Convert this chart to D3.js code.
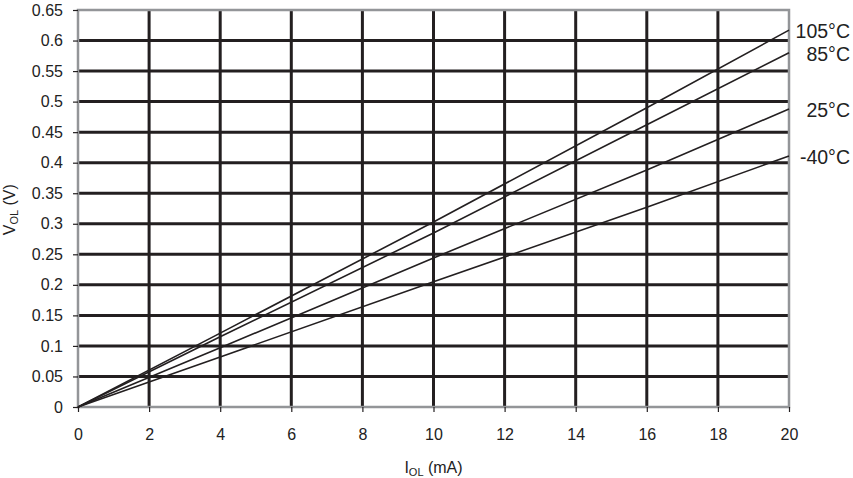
<!DOCTYPE html>
<html>
<head>
<meta charset="utf-8">
<script src="https://cdn.jsdelivr.net/npm/d3@7"></script>
<style>
  body { margin: 0; background: #fff; }
  text { font-family: "Liberation Sans", Arial, sans-serif; fill: #222; }
</style>
</head>
<body>
<svg id="chart" width="853" height="478"></svg>
<script>
const xTicks = [0, 2, 4, 6, 8, 10, 12, 14, 16, 18, 20];
const yTicks = [0, 0.05, 0.1, 0.15, 0.2, 0.25, 0.3, 0.35, 0.4, 0.45, 0.5, 0.55, 0.6, 0.65];
const seriesNames = ["105°C", "85°C", "25°C", "-40°C"];
// IOL (mA) sample points, VOL (V) read per series
const iol = [0, 4, 10, 16, 20];
const vol105 = [0, 0.121, 0.303, 0.490, 0.617];
const vol85 = [0, 0.115, 0.285, 0.462, 0.580];
const vol25 = [0, 0.097, 0.244, 0.388, 0.488];
const volM40 = [0, 0.082, 0.205, 0.327, 0.411];
const seriesValues = [vol105, vol85, vol25, volM40];

const svg = d3.select("#chart");
const margin = {left: 78, right: 64, top: 10, bottom: 71};
const W = 853, H = 478;

const x = d3.scaleLinear().domain([0, 20]).range([margin.left, W - margin.right]);
const y = d3.scaleLinear().domain([0, 0.65]).range([H - margin.bottom, margin.top]);

// grid
svg.append("g").selectAll("line").data(xTicks.slice(1, -1)).enter().append("line")
  .attr("x1", d => x(d)).attr("x2", d => x(d))
  .attr("y1", y(0)).attr("y2", y(0.65))
  .style("stroke", "#231f20").style("stroke-width", 3);
svg.append("g").selectAll("line").data(yTicks.slice(1, -1)).enter().append("line")
  .attr("x1", x(0)).attr("x2", x(20))
  .attr("y1", d => y(d)).attr("y2", d => y(d))
  .style("stroke", "#231f20").style("stroke-width", 3);

// frame
svg.append("rect")
  .attr("x", x(0)).attr("y", y(0.65))
  .attr("width", x(20) - x(0)).attr("height", y(0) - y(0.65))
  .style("fill", "none").style("stroke", "#939598").style("stroke-width", 2.5);

// axes
const xAxis = svg.append("g").attr("transform", `translate(0,${y(0)})`)
  .call(d3.axisBottom(x).tickValues(xTicks).tickSize(5).tickPadding(17).tickFormat(d3.format("d")));
const yAxis = svg.append("g").attr("transform", `translate(${x(0)},0)`)
  .call(d3.axisLeft(y).tickValues(yTicks).tickSize(5).tickPadding(10).tickFormat(d => String(+d.toFixed(2))));
[xAxis, yAxis].forEach(a => {
  a.select(".domain").remove();
  a.selectAll(".tick line").style("stroke", "#231f20").style("stroke-width", 1.2);
  a.selectAll(".tick text").style("font-size", "16px").style("fill", "#222");
});

// series
const line = d3.line().x((d, i) => x(iol[i])).y(d => y(d));
svg.append("g").selectAll("path").data(seriesValues).enter().append("path")
  .attr("d", line)
  .style("fill", "none").style("stroke", "#231f20").style("stroke-width", 1.6);

// series labels
svg.append("g").selectAll("text").data(seriesNames).enter().append("text")
  .attr("x", 850)
  .attr("y", (d, i) => y(seriesValues[i][iol.length - 1]) + 1)
  .attr("dy", "0.35em")
  .attr("text-anchor", "end")
  .style("font-size", "19.5px")
  .text(d => d);

// axis titles
const xt = svg.append("text")
  .attr("x", x(10)).attr("y", 473)
  .attr("text-anchor", "middle").style("font-size", "16px");
xt.append("tspan").text("I");
xt.append("tspan").attr("dy", 3).style("font-size", "11px").text("OL");
xt.append("tspan").attr("dy", -3).text(" (mA)");

const yt = svg.append("text")
  .attr("transform", `translate(14.5,${y(0.323)}) rotate(-90)`)
  .attr("text-anchor", "middle").style("font-size", "16px");
yt.append("tspan").text("V");
yt.append("tspan").attr("dy", 3).style("font-size", "11px").text("OL");
yt.append("tspan").attr("dy", -3).text(" (V)");
</script>
</body>
</html>
